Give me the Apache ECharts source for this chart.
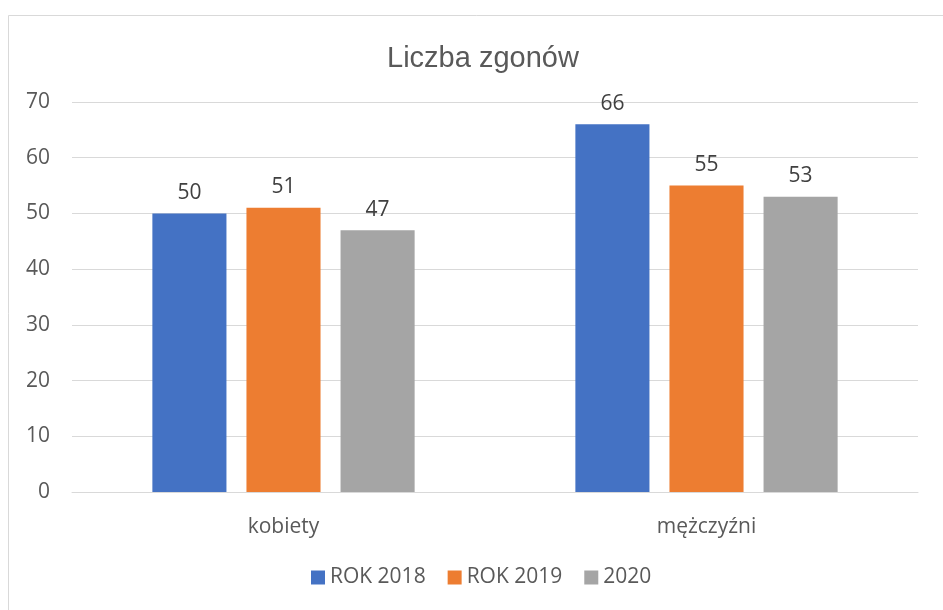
<!DOCTYPE html>
<html>
<head>
<meta charset="utf-8">
<script src="https://cdn.jsdelivr.net/npm/echarts@6/dist/echarts.min.js"></script>
<style>
  html, body { margin: 0; padding: 0; background: #fff; }
  #main { width: 943px; height: 610px; }
</style>
</head>
<body>
<div id="main"></div>
<script>
var categories = ['kobiety', 'mężczyźni'];
var rok2018 = [50, 66];
var rok2019 = [51, 55];
var rok2020 = [47, 53];
var seriesNames = ['ROK 2018', 'ROK 2019', '2020'];
var colors = ['#4472C4', '#ED7D31', '#A5A5A5'];

var myChart = echarts.init(document.getElementById('main'));
var font = '"Open Sans", "Noto Sans", sans-serif';

function makeSeries(name, data, color) {
    return {
        name: name,
        type: 'bar',
        data: data,
        barGap: '27%',
        barCategoryGap: '38%',
        itemStyle: { color: color },
        label: {
            show: true,
            position: 'top',
            distance: 10,
            color: '#404040',
            fontSize: 21,
            fontFamily: font
        }
    };
}

var option = {
    animation: false,
    backgroundColor: '#fff',
    graphic: [{
        type: 'rect',
        shape: { x: 8.5, y: 15.5, width: 1000, height: 1000 },
        style: { fill: 'none', stroke: '#D9D9D9', lineWidth: 1 }
    }],
    title: {
        text: 'Liczba zgonów',
        left: 382,
        top: 39,
        textStyle: {
            color: '#595959',
            fontSize: 29,
            fontWeight: 'normal',
            fontFamily: '"Liberation Sans", Arial, sans-serif'
        }
    },
    legend: {
        bottom: 17,
        left: 306,
        itemWidth: 14,
        itemHeight: 14,
        itemGap: 22,
        icon: 'rect',
        textStyle: { color: '#595959', fontSize: 21, fontFamily: font },
        data: seriesNames
    },
    grid: { left: 72, right: 25, top: 102, bottom: 118 },
    xAxis: {
        type: 'category',
        data: categories,
        axisLine: { lineStyle: { color: '#D9D9D9' } },
        axisTick: { show: false },
        axisLabel: { color: '#595959', fontSize: 21, fontFamily: font, margin: 25 }
    },
    yAxis: {
        type: 'value',
        min: 0,
        max: 70,
        interval: 10,
        axisLine: { show: false },
        axisTick: { show: false },
        axisLabel: { color: '#595959', fontSize: 21, fontFamily: font, margin: 22 },
        splitLine: { lineStyle: { color: '#D9D9D9', width: 1 } }
    },
    series: [
        makeSeries(seriesNames[0], rok2018, colors[0]),
        makeSeries(seriesNames[1], rok2019, colors[1]),
        makeSeries(seriesNames[2], rok2020, colors[2])
    ]
};

myChart.setOption(option);
</script>
</body>
</html>
